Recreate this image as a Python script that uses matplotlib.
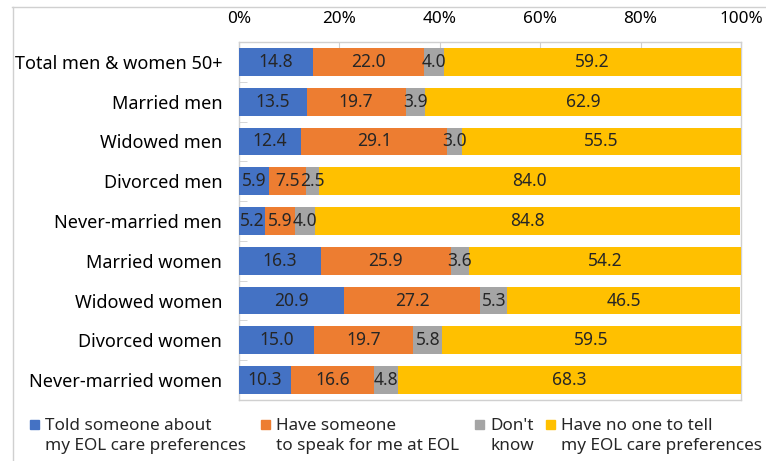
import matplotlib; matplotlib.use("Agg")
import matplotlib.pyplot as plt
from matplotlib.patches import Rectangle
from matplotlib.lines import Line2D
import numpy as np

BLUE = "#4472C4"; ORANGE = "#ED7D31"; GRAY = "#A5A5A5"; GOLD = "#FFC000"
INK = "#262626"; LINE = "#D0D0D0"
plt.rcParams.update({"font.family": ["Noto Sans", "DejaVu Sans"], "text.color": INK})

groups = ["Total men & women 50+", "Married men", "Widowed men", "Divorced men",
          "Never-married men", "Married women", "Widowed women", "Divorced women",
          "Never-married women"]
told = [14.8, 13.5, 12.4, 5.9, 5.2, 16.3, 20.9, 15.0, 10.3]
speak = [22.0, 19.7, 29.1, 7.5, 5.9, 25.9, 27.2, 19.7, 16.6]
dontknow = [4.0, 3.9, 3.0, 2.5, 4.0, 3.6, 5.3, 5.8, 4.8]
noone = [59.2, 62.9, 55.5, 84.0, 84.8, 54.2, 46.5, 59.5, 68.3]
series = [told, speak, dontknow, noone]
legend_labels = ["Told someone about\nmy EOL care preferences",
                 "Have someone\nto speak for me at EOL",
                 "Don't\nknow",
                 "Have no one to tell\nmy EOL care preferences"]
colors = [BLUE, ORANGE, GRAY, GOLD]
xticks = [0, 20, 40, 60, 80, 100]

W, H = 766, 461
fig = plt.figure(figsize=(W / 100, H / 100), dpi=100)
ax = fig.add_axes([239 / W, 1 - 400 / H, (741 - 239) / W, (400 - 42) / H])

y = np.arange(len(groups))
left = np.zeros(len(groups))
for vals, c in zip(series, colors):
    vals = np.array(vals)
    ax.barh(y, vals, left=left, height=0.7, color=c, zorder=3)
    for yi, l, v in zip(y, left, vals):
        ax.text(l + v / 2, yi, f"{v:.1f}", ha="center", va="center", fontsize=12.5, color=INK, zorder=4)
    left += vals

ax.set_xlim(0, 100); ax.set_ylim(len(groups) - 0.5, -0.5)
ax.xaxis.tick_top()
ax.set_xticks(xticks)
ax.set_xticklabels([f"{t}%" for t in xticks], fontsize=12.3)
ax.tick_params(axis="x", direction="in", length=5, color=LINE, pad=11)
ax.set_yticks(y)
ax.set_yticklabels(groups, fontsize=13)
ax.set_yticks(np.arange(len(groups) + 1) - 0.5, minor=True)
ax.tick_params(axis="y", which="major", length=0, pad=12)
ax.tick_params(axis="y", which="minor", direction="in", length=6, color=LINE)
for sp in ax.spines.values():
    sp.set_color(LINE); sp.set_linewidth(1)

# legend drawn by hand: square aligned to first line of each label
leg_x = [30, 261, 475, 546]
for lx, lab, c in zip(leg_x, legend_labels, colors):
    fig.add_artist(Rectangle((lx / W, 1 - 429 / H), 9 / W, 9 / H, transform=fig.transFigure,
                             color=c))
    fig.text((lx + 15) / W, 1 - 436 / H, lab, ha="left", va="center", fontsize=12.3, linespacing=1.3)

# outer frame (cropped on right/bottom)
fig.add_artist(Line2D([12 / W, 1], [1 - 7.5 / H, 1 - 7.5 / H], transform=fig.transFigure, color=LINE, lw=1))
fig.add_artist(Line2D([12.5 / W, 12.5 / W], [0, 1 - 7.5 / H], transform=fig.transFigure, color=LINE, lw=1))

fig.savefig("out.png", dpi=100, facecolor="white")
